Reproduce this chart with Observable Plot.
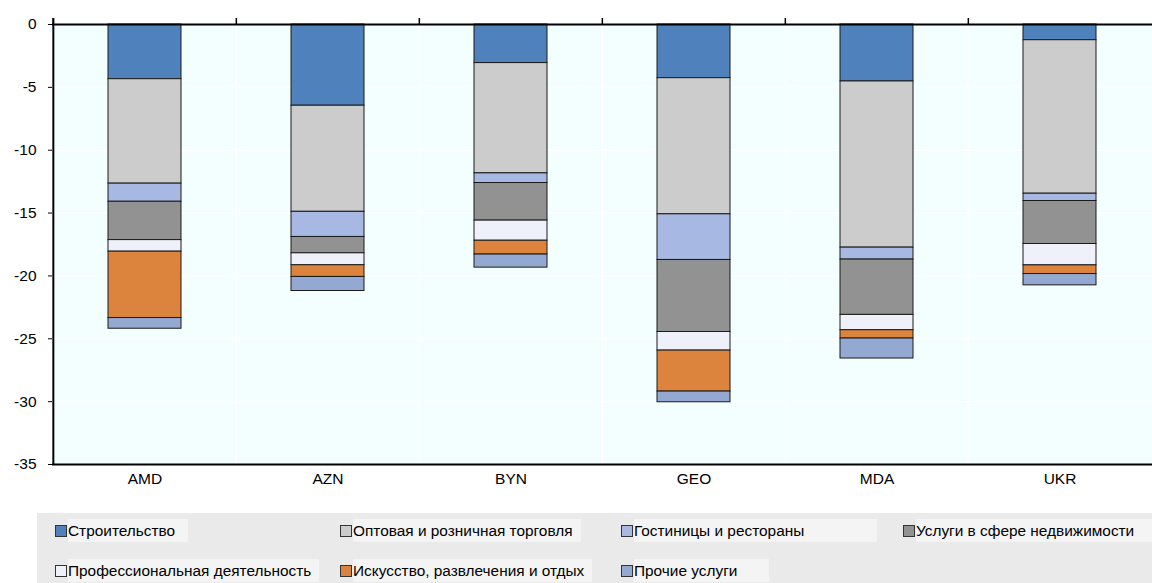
<!DOCTYPE html>
<html>
<head>
<meta charset="utf-8">
<script src="https://cdn.jsdelivr.net/npm/d3@7"></script>
<script src="https://cdn.jsdelivr.net/npm/@observablehq/plot@0.6"></script>
<style>
  html, body { margin: 0; padding: 0; background: #fff; }
  body { width: 1152px; height: 583px; overflow: hidden; font-family: "Liberation Sans", Arial, sans-serif; }
  #chart svg { display: block; }
  #legend { position: relative; width: 1152px; height: 78px; }
  #legend .bg { position: absolute; left: 37px; top: 8px; width: 1115px; height: 70px; background: #eaeaea; }
  #legend .item { position: absolute; height: 23px; display: flex; align-items: center; font-size: 15.4px; color: #000; white-space: nowrap; }
  #legend .sw { width: 10px; height: 10px; border: 1px solid #333; margin-right: 1px; flex: none; }
  #legend .lab { background: #f4f4f4; height: 23px; line-height: 23px; padding-right: 8px; }
</style>
</head>
<body>
<div id="chart"></div>
<div id="legend"><div class="bg"></div></div>
<script>
const countries = ["AMD", "AZN", "BYN", "GEO", "MDA", "UKR"];
const sectors = [
  "Строительство",
  "Оптовая и розничная торговля",
  "Гостиницы и рестораны",
  "Услуги в сфере недвижимости",
  "Профессиональная деятельность",
  "Искусство, развлечения и отдых",
  "Прочие услуги"
];
const construction = [-4.35, -6.46, -3.07, -4.27, -4.53, -1.25];
const trade        = [-8.31, -8.44, -8.77, -10.83, -13.22, -12.21];
const hotels       = [-1.44, -2.00, -0.77, -3.63, -0.95, -0.58];
const realEstate   = [-3.05, -1.30, -2.99, -5.73, -4.40, -3.42];
const professional = [-0.92, -0.95, -1.60, -1.48, -1.22, -1.70];
const arts         = [-5.28, -0.93, -1.10, -3.26, -0.66, -0.69];
const otherServ    = [-0.85, -1.12, -1.04, -0.85, -1.59, -0.90];
const yTicks = [0, -5, -10, -15, -20, -25, -30, -35];
const colors = ["#4f81bd", "#cccccc", "#a7b9e3", "#929292", "#eef1f9", "#dc843e", "#93a9d1"];

const series = [construction, trade, hotels, realEstate, professional, arts, otherServ];
const data = [];
countries.forEach((c, i) => {
  series.forEach((s, k) => data.push({country: c, sector: sectors[k], value: s[i]}));
});

const W = 1152, H = 505;
const mL = 52, mR = 0, mT = 24, mB = 41;
const half = (W - mL - mR) / countries.length / 2;

const chart = Plot.plot({
  width: W, height: H,
  marginLeft: mL, marginRight: mR, marginTop: mT, marginBottom: mB,
  style: {fontFamily: '"Liberation Sans", Arial, sans-serif', fontSize: "15px", color: "#000", background: "#fff"},
  x: {domain: countries, paddingInner: 0.6, paddingOuter: 0.3, label: null},
  y: {domain: [-35, 0], label: null},
  color: {domain: sectors, range: colors},
  marks: [
    Plot.frame({fill: "#f3ffff", stroke: null}),
    Plot.gridY(yTicks.slice(1, -1), {stroke: "#fff", strokeOpacity: 1, strokeWidth: 1.5}),
    Plot.ruleX(countries.slice(1), {x: d => d, dx: -half, stroke: "#fff", strokeWidth: 1.5}),
    Plot.barY(data, {x: "country", y: "value", fill: "sector", stroke: "#1a1a1a", strokeWidth: 1}),
    Plot.ruleY([0], {stroke: "#000", strokeWidth: 2}),
    Plot.ruleY([-35], {stroke: "#000", strokeWidth: 2}),
    Plot.ruleX(countries, {x: d => d, y1: 0, y2: 0, insetTop: -6, dx: -half, stroke: "#000", strokeWidth: 1.5}),
    Plot.ruleX([countries[0]], {x: d => d, y1: 0, y2: -35, insetTop: -6, dx: -half, stroke: "#000", strokeWidth: 2}),
    Plot.axisY(yTicks, {tickSize: 4, tickPadding: 12, tickFormat: d => String(d), fontSize: 15.5}),
    Plot.axisX({tickSize: 0, tickPadding: 8, fontSize: 15.5})
  ]
});
document.getElementById("chart").appendChild(chart);

// legend (4 columns, 2 rows)
const legendPos = [
  {x: 55, y: 14, w: 120}, {x: 340, y: 14, w: 220}, {x: 621, y: 14, w: 243}, {x: 903, y: 14, w: 238},
  {x: 55, y: 54, w: 244}, {x: 340, y: 54, w: 239}, {x: 621, y: 54, w: 135}
];
const leg = document.getElementById("legend");
sectors.forEach((s, k) => {
  const p = legendPos[k];
  const it = document.createElement("div");
  it.className = "item";
  it.style.left = p.x + "px";
  it.style.top = p.y + "px";
  const sw = document.createElement("div");
  sw.className = "sw";
  sw.style.background = colors[k];
  const lab = document.createElement("span");
  lab.className = "lab";
  lab.style.minWidth = (p.w - 8) + "px";
  lab.textContent = s;
  it.appendChild(sw);
  it.appendChild(lab);
  leg.appendChild(it);
});
</script>
</body>
</html>
